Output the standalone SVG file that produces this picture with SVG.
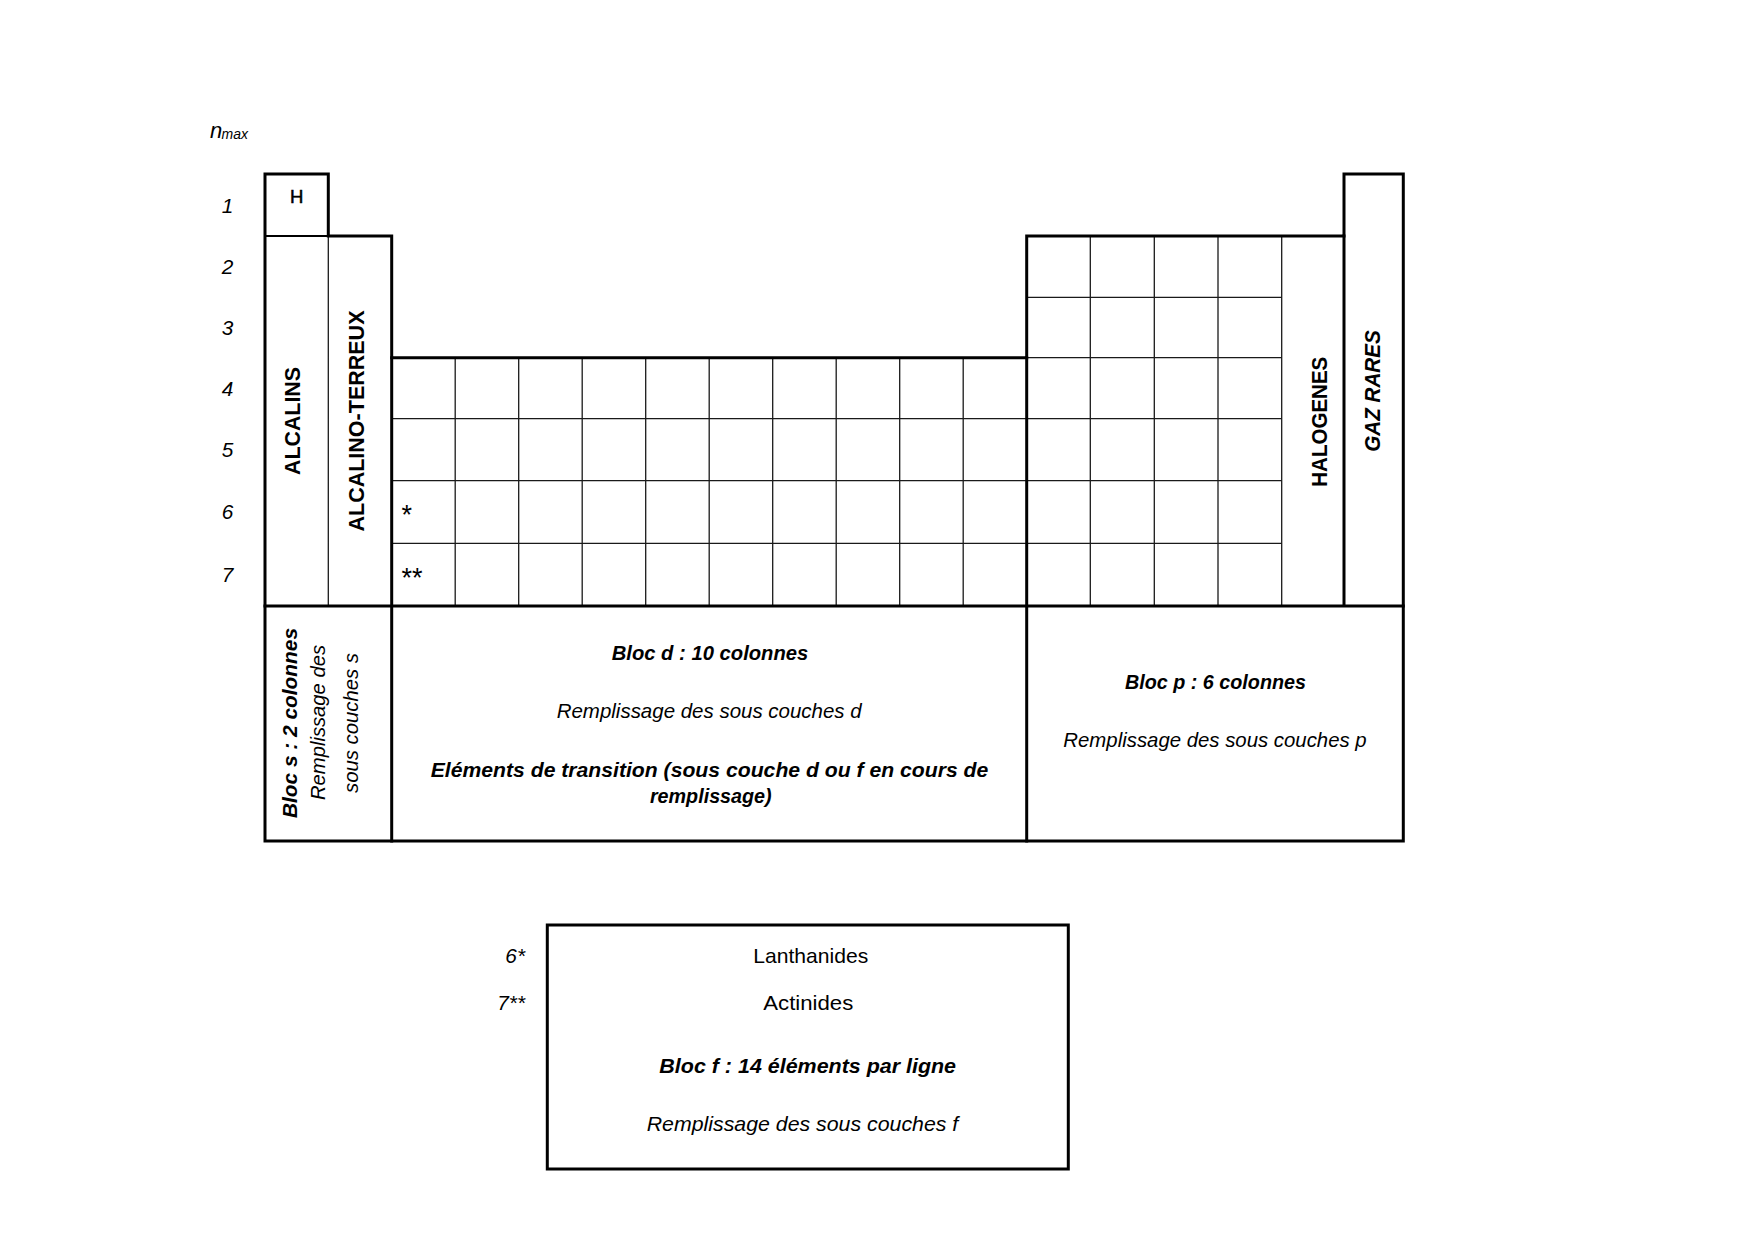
<svg xmlns="http://www.w3.org/2000/svg" width="1754" height="1240" viewBox="0 0 1754 1240">
<style>
.thick{fill:none;stroke:#000;stroke-width:3;stroke-linecap:square}
.med{fill:none;stroke:#000;stroke-width:2}
.thin{fill:none;stroke:#1a1a1a;stroke-width:1.3}
text{font-family:"Liberation Sans",Arial,sans-serif;fill:#000}
.num{font-size:20.8px;font-style:italic;text-anchor:middle}
.lbl{font-size:22.5px;font-weight:bold;text-anchor:middle}
.bi{font-size:20.8px;font-weight:bold;font-style:italic;text-anchor:middle}
.it{font-size:20.8px;font-style:italic;text-anchor:middle}
.rg{font-size:20.8px;text-anchor:middle}
.star{font-size:27px}
</style>
<rect width="1754" height="1240" fill="#fff"/>
<g id="nmax">
<text x="210" y="137.7" style="font-size:22px;font-style:italic">n</text>
<text x="221.5" y="139" style="font-size:14px;font-style:italic">max</text>
</g>
<g id="row-numbers">
<text class="num" x="227.5" y="212.5">1</text>
<text class="num" x="227.5" y="274.2">2</text>
<text class="num" x="227.5" y="335">3</text>
<text class="num" x="227.5" y="395.5">4</text>
<text class="num" x="227.5" y="457.1">5</text>
<text class="num" x="227.5" y="519.4">6</text>
<text class="num" x="227.5" y="582.1">7</text>
</g>
<g id="grid-thin">
<path class="thin" d="M328.3,236V606 M455.2,357.7V606 M518.7,357.7V606 M582.2,357.7V606 M645.7,357.7V606 M709.2,357.7V606 M772.7,357.7V606 M836.2,357.7V606 M899.7,357.7V606 M963.2,357.7V606 M1090.3,236V606 M1154.3,236V606 M1218,236V606 M1281.7,236V606 M1026.7,297.3H1281.7 M1026.7,357.7H1281.7 M391.7,418.6H1281.7 M391.7,480.6H1281.7 M391.7,543.3H1281.7"/>
</g>
<g id="outline">
<path class="thick" d="M265,174H328.3V236H391.7V357.7H1026.7V236H1344V174H1403.3V841H265Z"/>
<path class="thick" d="M391.7,357.7V841 M1026.7,357.7V841 M1344,236V606 M265,606H1403.3"/>
<path class="med" d="M265,236H328.3"/>
</g>
<g id="hydrogen">
<text x="296.7" y="203" style="font-size:18.5px;text-anchor:middle;stroke:#000;stroke-width:0.5">H</text>
</g>
<g id="alcalins">
<text class="lbl" transform="translate(300,421) rotate(-90)" textLength="108" lengthAdjust="spacingAndGlyphs">ALCALINS</text>
</g>
<g id="alcalino-terreux">
<text class="lbl" transform="translate(363.5,421) rotate(-90)" textLength="221" lengthAdjust="spacingAndGlyphs">ALCALINO-TERREUX</text>
</g>
<g id="halogenes">
<text class="lbl" transform="translate(1327,421.7) rotate(-90)" textLength="130" lengthAdjust="spacingAndGlyphs">HALOGENES</text>
</g>
<g id="gaz-rares">
<text class="lbl" style="font-style:italic" transform="translate(1380,391) rotate(-90)" textLength="121.7" lengthAdjust="spacingAndGlyphs">GAZ RARES</text>
</g>
<g id="stars">
<text class="star" x="401.5" y="524">*</text>
<text class="star" x="401.5" y="587">**</text>
</g>
<g id="bloc-s">
<text class="bi" transform="translate(297,723) rotate(-90)" textLength="190" lengthAdjust="spacingAndGlyphs">Bloc s : 2 colonnes</text>
<text class="it" transform="translate(325,722.5) rotate(-90)" textLength="155" lengthAdjust="spacingAndGlyphs">Remplissage des</text>
<text class="it" transform="translate(358,723) rotate(-90)" textLength="140" lengthAdjust="spacingAndGlyphs">sous couches s</text>
</g>
<g id="bloc-d">
<text class="bi" x="710" y="660" textLength="196.6" lengthAdjust="spacingAndGlyphs">Bloc d : 10 colonnes</text>
<text class="it" x="709.2" y="718.3" textLength="305" lengthAdjust="spacingAndGlyphs">Remplissage des sous couches d</text>
<text class="bi" x="709.5" y="776.7" textLength="557.6" lengthAdjust="spacingAndGlyphs">Eléments de transition (sous couche d ou f en cours de</text>
<text class="bi" x="710.8" y="803.3" textLength="121.7" lengthAdjust="spacingAndGlyphs">remplissage)</text>
</g>
<g id="bloc-p">
<text class="bi" x="1215.5" y="689.3" textLength="181" lengthAdjust="spacingAndGlyphs">Bloc p : 6 colonnes</text>
<text class="it" x="1215" y="746.7" textLength="303.3" lengthAdjust="spacingAndGlyphs">Remplissage des sous couches p</text>
</g>
<g id="bloc-f">
<rect class="thick" x="547.3" y="925" width="521" height="244"/>
<text x="525" y="963.3" style="font-size:20.8px;font-style:italic;text-anchor:end">6*</text>
<text x="525" y="1009.5" style="font-size:20.8px;font-style:italic;text-anchor:end">7**</text>
<text class="rg" x="810.8" y="963.3" textLength="115" lengthAdjust="spacingAndGlyphs">Lanthanides</text>
<text class="rg" x="808.3" y="1009.5" textLength="90" lengthAdjust="spacingAndGlyphs">Actinides</text>
<text class="bi" x="807.7" y="1073.3" textLength="296.7" lengthAdjust="spacingAndGlyphs">Bloc f : 14 éléments par ligne</text>
<text class="it" x="802.5" y="1131" textLength="311.6" lengthAdjust="spacingAndGlyphs">Remplissage des sous couches f</text>
</g>
</svg>
